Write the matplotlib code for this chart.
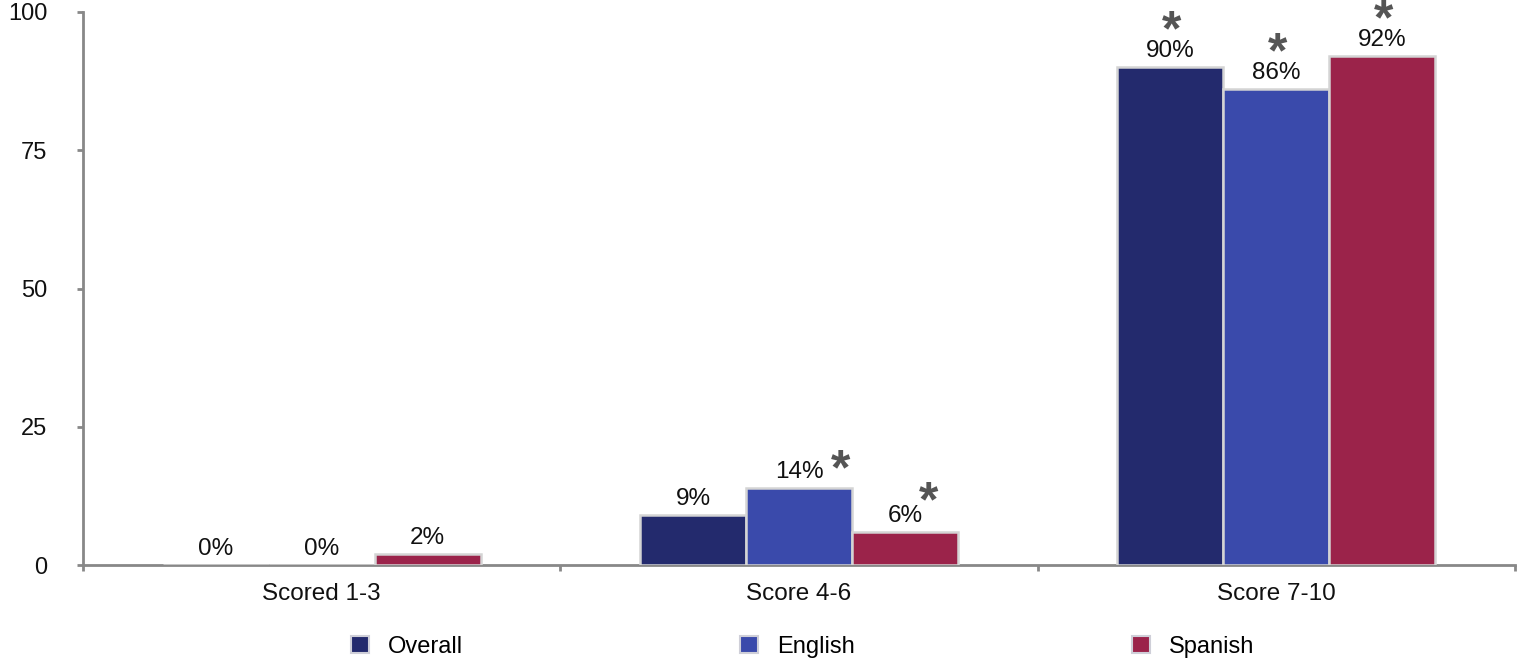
import matplotlib
matplotlib.use("Agg")
import matplotlib.pyplot as plt
import numpy as np
from matplotlib.patches import Patch

plt.rcParams['font.family'] = ['Liberation Sans', 'DejaVu Sans']

categories = ["Scored 1-3", "Score 4-6", "Score 7-10"]
series = ["Overall", "English", "Spanish"]
overall = [0, 9, 90]
english = [0, 14, 86]
spanish = [2, 6, 92]
# significance markers: None, 'top' (above label), 'right' / 'upper-right' (beside label)
overall_sig = [None, None, "top"]
english_sig = [None, "right", "top"]
spanish_sig = [None, "upper-right", "top"]
yticks = [0, 25, 50, 75, 100]

colors = ["#232a6d", "#3a4aab", "#9b234a"]
values = [overall, english, spanish]
sigs = [overall_sig, english_sig, spanish_sig]

# asterisk offsets (pixels) relative to bar top centre, baseline-anchored
star_offsets = {"top": (1, 22), "right": (42, 3), "upper-right": (24, 15)}

fig = plt.figure(figsize=(15.18, 6.6), dpi=100)
ax = fig.add_axes([83/1518, 1-565/660, (1515-83)/1518, (565-12)/660])

x = np.arange(len(categories))
bw = 0.222
for i, (vals, col, sg) in enumerate(zip(values, colors, sigs)):
    pos = x + (i - 1) * bw
    ax.bar(pos, vals, width=bw, color=col, edgecolor="#d4d4d4", linewidth=1.8, zorder=3)
    for p, v, s in zip(pos, vals, sg):
        ax.annotate(f"{v}%", (p, v), xytext=(0, 10), textcoords="offset pixels",
                    ha="center", va="baseline", fontsize=17.5, color="#111111")
        if s is not None:
            dx, dy = star_offsets[s]
            ax.annotate("*", (p, v), xytext=(dx, dy), textcoords="offset pixels",
                        ha="center", va="baseline", fontsize=36, color="#555555",
                        fontweight="bold", annotation_clip=False)

ax.set_xlim(-0.5, len(categories) - 0.5)
ax.set_ylim(0, 100)
ax.set_yticks(yticks)
ax.set_yticklabels([str(t) for t in yticks], fontsize=17, color="#111111")
ax.set_xticks(x)
ax.set_xticklabels(categories, fontsize=17.5, color="#111111")
ax.tick_params(axis="x", length=0, pad=13)
ax.set_xticks(np.arange(len(categories) + 1) - 0.5, minor=True)
ax.tick_params(axis="x", which="minor", length=4.5, width=2, color="#888888")
ax.tick_params(axis="y", length=4.5, width=2, color="#888888", pad=21)
for sp in ["top", "right"]:
    ax.spines[sp].set_visible(False)
for sp in ["left", "bottom"]:
    ax.spines[sp].set_color("#888888")
    ax.spines[sp].set_linewidth(2)

handles = [Patch(facecolor=c, edgecolor="#cfcfd8", linewidth=1.5, label=s) for c, s in zip(colors, series)]
fig.legend(handles=handles, loc="lower left", ncol=3, mode="expand",
           bbox_to_anchor=(351/1518, 2/660, (1254-351)/1518, 30/660),
           frameon=False, fontsize=17, handlelength=0.75, handleheight=0.75,
           handletextpad=0.8, borderaxespad=0, borderpad=0)

fig.savefig("out.png", dpi=100)
